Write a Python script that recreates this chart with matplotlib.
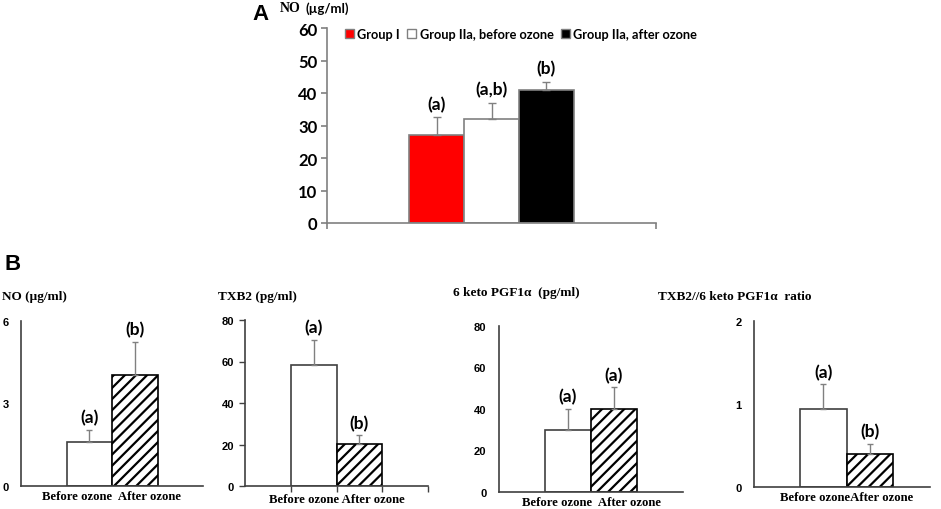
import matplotlib
matplotlib.use('Agg')
import matplotlib.pyplot as plt
from matplotlib.patches import Patch

W, H = 941, 510
SERIF = 'Liberation Serif'
SANS = 'Lato'
plt.rcParams['hatch.linewidth'] = 1.6

# panel A data
a_groups = ['Group I', 'Group IIa, before ozone', 'Group IIa, after ozone']
a_means = [27, 32, 41]
a_sd = [5.5, 5, 2.3]
a_labels = ['(a)', '(a,b)', '(b)']
a_colors = ['#ff0000', 'white', 'black']
a_yticks = [0, 10, 20, 30, 40, 50, 60]

# panel B data
b_titles = ['NO (µg/ml)', 'TXB2 (pg/ml)', '6 keto PGF1α  (pg/ml)',
            'TXB2//6 keto PGF1α  ratio']
b_xlabels = ['Before ozone  After ozone', 'Before ozone After ozone',
             'Before ozone  After ozone', 'Before ozoneAfter ozone']
b_means = [[1.6, 4.05], [58.5, 20.1], [30.1, 40.2], [0.945, 0.40]]
b_sd = [[0.45, 1.2], [11.9, 4.5], [10.1, 10.4], [0.295, 0.12]]
b_labels = [['(a)', '(b)'], ['(a)', '(b)'], ['(a)', '(a)'], ['(a)', '(b)']]
b_yticks = [[0, 3, 6], [0, 20, 40, 60, 80], [0, 20, 40, 60, 80], [0, 1, 2]]


def px_axes(fig, x0, y0, x1, y1):
    # pixel box (top-left origin) -> figure axes
    return fig.add_axes([x0 / W, 1 - y1 / H, (x1 - x0) / W, (y1 - y0) / H])


fig = plt.figure(figsize=(W / 100, H / 100), dpi=100)

# ---- panel A ----
ax = px_axes(fig, 327, 29, 656, 224)
xa = [-1, 0, 1]
ax.bar(xa, a_means, width=1, color=a_colors, edgecolor='#808080', linewidth=1.2, zorder=2)
ax.errorbar(xa, a_means, yerr=[[0] * 3, a_sd], fmt='none', ecolor='#808080',
            elinewidth=1, capsize=3, capthick=1, zorder=3)
for x, m, s, lab in zip(xa, a_means, a_sd, a_labels):
    ax.annotate(lab, (x, m + s), xytext=(0, 4), textcoords='offset points',
                ha='center', va='bottom', fontsize=12.5, fontweight='bold', family=SANS)
ax.set_xlim(-3, 3)
ax.set_ylim(0, 60)
ax.set_yticks(a_yticks)
ax.set_xticks([-3, 3])
ax.set_xticklabels(['', ''])
for s in ['top', 'right']:
    ax.spines[s].set_visible(False)
for s in ['left', 'bottom']:
    ax.spines[s].set_color('#808080')
    ax.spines[s].set_linewidth(1.2)
ax.tick_params(colors='#808080', length=4, width=1.2)
ax.tick_params(axis='y', labelcolor='black', labelsize=12, pad=3)
for t in ax.get_yticklabels():
    t.set_fontweight('bold')
    t.set_family(SANS)
handles = [Patch(facecolor=c, edgecolor='#808080') for c in a_colors]
fig.legend(handles, a_groups, loc='upper left', bbox_to_anchor=(345 / W, 1 - 29 / H),
           ncol=3, frameon=False, borderaxespad=0, borderpad=0, handlelength=0.7,
           handleheight=0.7, handletextpad=0.25, columnspacing=0.6,
           prop={'family': SANS, 'weight': 'bold', 'size': 9.2})
fig.text(252 / W, 1 - 15 / H, 'A', fontsize=16, fontweight='bold', family='Liberation Sans', va='center')
fig.text(280 / W, 1 - 9 / H, 'NO', fontsize=10, fontweight='bold', family=SERIF, va='center')
fig.text(306 / W, 1 - 9 / H, '(µg/ml)', fontsize=9.5, fontweight='bold', family=SANS, va='center')

# ---- panel B ----
fig.text(5 / W, 1 - 265 / H, 'B', fontsize=16, fontweight='bold', family='Liberation Sans', va='center')
boxes = [(21, 322, 203, 487), (245, 321, 428, 487), (499, 327, 683, 493), (754, 322, 930, 488)]
title_pos = [(2, 297), (218, 297), (453, 293), (658, 297)]
xb = [0, 1]
for i in range(4):
    ax = px_axes(fig, *boxes[i])
    ax.bar(xb, b_means[i], width=1, color='white', edgecolor=['#404040', 'black'],
           hatch=[None, '///'], linewidth=1.2, zorder=2)
    ax.errorbar(xb, b_means[i], yerr=[[0, 0], b_sd[i]], fmt='none', ecolor='#808080',
                elinewidth=1, capsize=2.5, capthick=1, zorder=3)
    for x, m, s, lab in zip(xb, b_means[i], b_sd[i], b_labels[i]):
        ax.annotate(lab, (x, m + s), xytext=(0, 3), textcoords='offset points',
                    ha='center', va='bottom', fontsize=12.5, fontweight='bold', family=SANS)
    ax.set_xlim(-1.5, 2.5 if i < 3 else 2.3)
    ax.set_ylim(0, b_yticks[i][-1])
    ax.set_yticks(b_yticks[i])
    for s in ['top', 'right']:
        ax.spines[s].set_visible(False)
    for s in ['left', 'bottom']:
        ax.spines[s].set_color('#404040')
        ax.spines[s].set_linewidth(1.2)
    if i == 1:
        ax.set_xticks([-0.5, 0.5, 1.5, 2.5])
        ax.set_xticklabels(['', b_xlabels[i], '', ''])
        ax.tick_params(length=4, width=1, colors='#404040', labelcolor='black')
    else:
        ax.set_xticks([0.5])
        ax.set_xticklabels([b_xlabels[i]])
        ax.tick_params(length=0, colors='#404040', labelcolor='black')
    ax.tick_params(axis='y', labelsize=8, pad=9 if i != 1 else 4)
    ax.tick_params(axis='x', labelsize=9.2, pad=3 if i != 1 else 1)
    for t in ax.get_yticklabels():
        t.set_fontweight('bold')
        t.set_family('Liberation Sans')
    for t in ax.get_xticklabels():
        t.set_fontweight('bold')
        t.set_family(SERIF)
    tx, ty = title_pos[i]
    fig.text(tx / W, 1 - ty / H, b_titles[i], fontsize=9.5, fontweight='bold', family=SERIF, va='center')

fig.savefig('out.png', dpi=100)
